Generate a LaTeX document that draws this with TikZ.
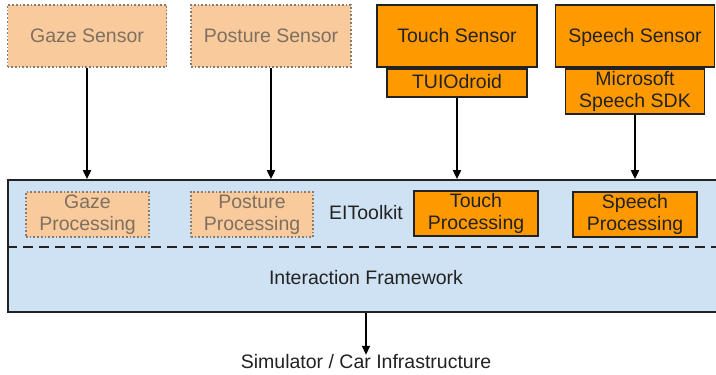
\documentclass[tikz,border=0pt]{standalone}
\usepackage{fontspec}
\setmainfont{Liberation Sans}
\usetikzlibrary{arrows.meta}
\definecolor{solidor}{HTML}{FF9900}
\definecolor{fadeor}{HTML}{F9CB9C}
\definecolor{fadetx}{HTML}{7F6F60}
\definecolor{fadebd}{HTML}{8A7A6A}
\definecolor{frame}{HTML}{CFE2F3}
\definecolor{ink}{HTML}{222222}
\tikzset{
  every node/.style={font=\fontsize{19.5}{22}\selectfont, text=ink, align=center, inner sep=0pt},
  oneline/.style={text height=13pt, text depth=1pt},
  solidbox/.style={draw=ink, line width=1.7pt, fill=solidor},
  fadebox/.style={draw=fadebd, line width=1.7pt, dotted, fill=fadeor, text=fadetx},
  conn/.style={draw=black, line width=1.8pt, -{Triangle[length=9pt,width=8pt]}},
}
\begin{document}
\begin{tikzpicture}[x=1pt,y=-1pt]
\useasboundingbox (0,0) rectangle (716,375);
% framework box (right edge runs past the picture)
\node[draw=ink, line width=1.7pt, fill=frame, minimum width=714pt, minimum height=132pt] (frame) at (365,246) {};
\draw[ink, line width=1.8pt, dash pattern=on 10pt off 6pt] (frame.west |- 0,247) coordinate (dl) -- (frame.east |- 0,247) coordinate (dr);
% sensors
\node[fadebox, oneline, minimum width=159pt, minimum height=62pt] (gazes) at (87,36) {Gaze Sensor};
\node[fadebox, oneline, minimum width=160pt, minimum height=62pt] (postures) at (271,36) {Posture Sensor};
\node[solidbox, oneline, minimum width=160pt, minimum height=62pt] (touchs) at (457,36) {Touch Sensor};
\node[solidbox, oneline, minimum width=140pt, minimum height=28pt, anchor=north] (tuio) at (touchs.south) {TUIOdroid};
\node[solidbox, oneline, minimum width=159pt, minimum height=62pt] (speechs) at (635,36) {Speech Sensor};
\node[solidbox, minimum width=139pt, minimum height=45pt, anchor=north] (sdk) at (speechs.south) {Microsoft\\Speech SDK};
% processing
\node[fadebox, minimum width=123pt, minimum height=45pt] (gazep) at (87.5,214.5) {Gaze\\Processing};
\node[fadebox, minimum width=122pt, minimum height=45pt] (posturep) at (252,214.5) {Posture\\Processing};
\node[solidbox, minimum width=124pt, minimum height=45pt] (touchp) at (476,213.5) {Touch\\Processing};
\node[solidbox, minimum width=124pt, minimum height=45pt] (speechp) at (635,214.5) {Speech\\Processing};
\node[oneline] (eit) at (366,213) {EIToolkit};
\node[oneline] (iframe) at (366,278) {Interaction Framework};
\node[oneline] (sim) at (366,362) {Simulator / Car Infrastructure};
% connectors
\draw[conn] (gazes.south) -- (gazes.south |- frame.north);
\draw[conn] (postures.south) -- (postures.south |- frame.north);
\draw[conn] (tuio.south) -- (tuio.south |- frame.north);
\draw[conn] (sdk.south) -- (sdk.south |- frame.north);
\draw[conn] (frame.south -| sim.north) -- (sim.north);
\end{tikzpicture}
\end{document}
